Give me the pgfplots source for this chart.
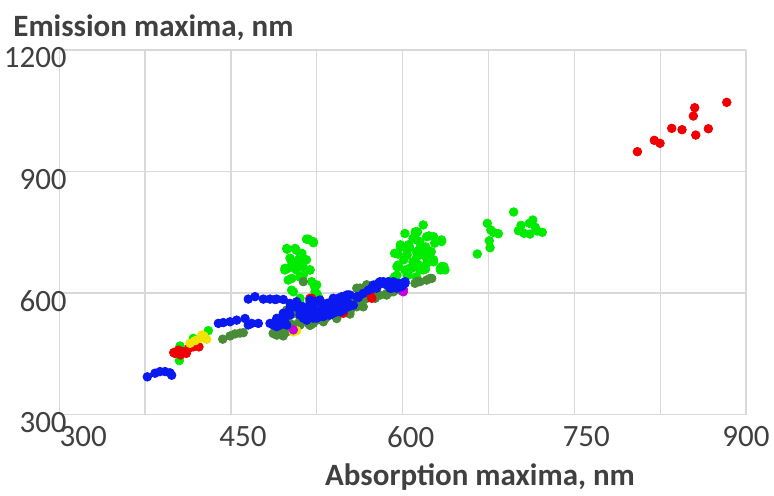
\documentclass[border=0pt]{standalone}
\usepackage{fontspec}
\setmainfont{Carlito}
\usepackage{pgfplots}
\pgfplotsset{compat=1.18}
\definecolor{gridc}{RGB}{217,217,217}
\definecolor{txt}{RGB}{64,64,64}
\definecolor{cblue}{RGB}{10,25,240}
\definecolor{cgreen}{RGB}{0,235,0}
\definecolor{cdkgreen}{RGB}{72,140,56}
\definecolor{cred}{RGB}{240,0,0}
\definecolor{cyellow}{RGB}{240,228,0}
\definecolor{cmag}{RGB}{200,0,220}
\begin{document}
\begin{tikzpicture}
\useasboundingbox (-29.65pt,-40.25pt) rectangle (357.35pt,207.25pt);
\begin{axis}[
  at={(0,0)}, anchor=south west,
  scale only axis, width=343.35pt, height=182.25pt,
  xmin=300, xmax=900, ymin=300, ymax=1200,
  xtick={300,375,...,900},
  xticklabels={\hspace{24pt}300,,\hspace{12pt}450,,\hspace{8pt}600,,\hspace{12pt}750,,900},
  ytick={300,600,900,1200},
  yticklabels={300,600,900,1200},
  grid=major, major grid style={draw=gridc, line width=0.65pt},
  axis line style={draw=none},
  major tick length=0pt,
  ticklabel style={font=\fontsize{15.5}{18}\selectfont, text=txt},
  xticklabel style={anchor=center, yshift=-11.25pt},
  yticklabel style={anchor=east, inner sep=0pt, xshift=3.9pt, yshift=-4pt},
  /pgf/number format/assume math mode=true,
  every axis x label/.style={at={(axis description cs:0.6127,0)}, anchor=center, yshift=-31.25pt, font=\fontsize{15.5}{18}\selectfont\bfseries, text=txt},
  every axis y label/.style={at={(axis description cs:0,1)}, anchor=west, inner sep=0pt, xshift=-23.15pt, yshift=11pt, font=\fontsize{15.5}{18}\selectfont\bfseries, text=txt},
  xlabel={Absorption maxima, nm},
  ylabel={Emission maxima, nm},
  clip=false,
  every axis plot/.append style={only marks, mark=*, mark size=2.15pt},
]
% bright green
\addplot[cgreen, mark options={draw=cgreen, fill=cgreen}] coordinates {
(665.2,696.3)(674,772)(675.7,729.1)(676.4,711.8)(677,755.5)(679.2,749.9)(683.6,746.4)(697,800)(701.1,753.8)(703.4,767.1)(706,747.4)(710.7,772)(711.3,745.6)(713.7,780.2)(715.9,762.2)(717.7,753)(722,749.9)
(602,747)(618,768)(613,751)(609,735)(623,741)(634,729)(628,723)(598,719)(596,696)(604,706)(606,714)(615,727)(620,714)(625,702)(627,682)(618,694)(612,702)(601,682)(596,665)(602,657)(608,661)(615,657)(620,659)(633,661)(637,657)(593,640)(609,677)(621,673)(605,644)(614,669)(593,698)(595,665)(633,657)(636,665)(627,739)(634,727)(625,682)
(611,751)(612,731)(621,739)(634,731)(598,714)(605,719)(615,710)(624,702)(604,694)(612,686)(621,686)(627,677)(596,669)(606,661)(618,657)(634,665)(595,644)(604,644)(612,640)(592,636)
(499,708)(507,706)(516,733)(522,724)(512,698)(503,677)(509,682)(513,665)(500,661)(507,657)(519,657)(500,632)(510,640)(503,607)(523,616)(525,599)(510,583)(506,673)(516,682)(497,657)
(498.7,710)(506,710)(517.6,733)(521.9,727)(510.3,698)(501.6,686)(513.2,677)(497.2,661)(507.4,661)(519.1,657)(503.1,636)(513.2,644)(520.5,628)(524.9,620)(504.5,603)(523.4,603)(510.3,587)(526.3,591)
(405.5,469)(404.9,433)(417.1,488)(430.2,507)
};
% dark green
\addplot[cdkgreen, mark options={draw=cdkgreen, fill=cdkgreen}] coordinates {
(490,504)(495.7,500)(501.6,509)(506,521)(511.8,529)(517.6,525)(524.9,533)(532.2,537)(539.4,546)(545.3,550)(554,554)(559.9,566)(564.2,583)(568.6,591)(571.5,603)(562.8,612)(568.6,620)(580.2,595)(586.1,599)(591.8,603)(597.7,607)(501.6,558)(506,550)(498.7,550)(487,500)(612.3,628)(513.2,628)(521.9,537)(492.9,504)
(490,496)(498.7,504)(510.3,521)(521.9,525)(533.7,541)(545.3,550)(556.9,566)(562.8,583)(568.6,591)(568.6,620)(559.9,612)(565.6,607)(574.4,599)(615.2,628)(623.9,636)(498.7,558)(504.5,550)(610.8,624)(621,632)(625.4,636)
(492.9,517)(501.6,525)(510.3,533)(519.1,541.5)(527.8,550)(536.5,558)(549.6,570)(558.4,583)(576,599)(589,602)(495.7,494)
(487,500.5)(495.7,508.6)(507.4,521)(519.1,529.1)(530.7,537.5)(542.4,545.7)(554,558)(562.8,574.5)(568.6,586.9)(571.5,595)(498.7,553.8)(501.6,545.7)(533.7,574.5)(554,582.7)(565.6,586.9)(562.8,603.2)
(507.4,512)(519.1,520)(530.7,529)(542.4,537)(554,548)(565.6,566)(576,587)(586,595)
(442.8,486)(449.2,494)(453.5,499)(457.9,501)(460.8,502)
};
% red
\addplot[cred, mark options={draw=cred, fill=cred}] coordinates {
(400,453)(404,459)(408,455)(413,463)(417,467)(422,467)(406,447)(411,451)(401,451)
(520.5,587)(571.5,599)(573,587)(548.2,550)(519,587)
(805.1,948.9)(819.9,977)(824.9,969.6)(835.1,1006.6)(844.1,1003.2)(854,1037)(855.2,1057.5)(856.1,990)(867.1,1005.6)(883.2,1070.8)
};
% yellow
\addplot[cyellow, mark options={draw=cyellow, fill=cyellow}] coordinates {
(414.2,475.8)(418.6,482.2)(422.9,488.1)(426.4,493.8)(428.8,485.7)(424.4,496.3)
(593.3,624)(507.4,507)(504.5,504)
};
% magenta
\addplot[cmag, mark options={draw=cmag, fill=cmag}] coordinates {
(600.6,603)(600.6,609)(504.5,509)
};
% blue
\addplot[cblue, mark options={draw=cblue, fill=cblue}] coordinates {
(376.9,393)(383.6,402)(388,406)(392.4,406)(396.7,403)(398.2,397)
(443.3,527)(449.2,529)(455,533)(462.3,537)(468.1,525)(473.9,525)(465.1,521)(439,525)
(465.1,585)(471,591)(478.3,585)(484.1,585)(490,585)(495.7,584)(488.5,584)
(504.5,566)(508.8,570)(513.2,566)(517.6,562)(521.9,562)(526.3,579)(530.7,570)(535,575)(539.4,583)(543.8,587)(546.8,591)(551.1,595)(554,595)(542.4,575)(546.8,570)(551.1,575)(516.2,546)(520.5,542)(524.9,538)(530.7,542)(535,546)(539.4,550)(543.8,554)(548.2,558)(552.5,566)(556.9,570)(561.3,589)(574.4,612)(577.3,620)(581.7,624)(586.1,620)(590.5,612)(594.8,612)(599.2,616)(602.1,624)(487,525)(491.4,529)(495.7,533)(490,517)(510.3,554)(513.2,538)(498.7,521)
(578.7,624)(583.1,628)(577.3,612)(589,612)(594.8,614)(600.6,625)(559.9,591)(539.4,587)(545.3,583)(551.1,591)(552.5,574)(545.3,562)(536.5,550)(527.8,542)(521.9,538)(516.2,533)(510.3,558)(501.6,546)(497.2,538)(492.9,529)(487,521)(494.3,537)
(501.6,574.5)(507.4,578.5)(519.1,582.7)(523.4,578.5)(527.8,558)(533.7,562)(539.4,566)(495.7,550)(490,537.5)(484.1,525)(565.6,599)(570,607)(573,611.6)(596.2,624)(591.8,628)(587.5,628)
(510.3,545.7)(524.9,550)(536.5,545.7)(545.3,553.8)(519.1,578.5)(527.8,582.7)(539.4,582.7)(552.5,595)(561.3,590.8)(574.4,619.7)(580.2,627.9)(589,615.5)(597.7,615.5)(602.1,627.9)(501.6,562.2)(492.9,521)
};
\end{axis}
\end{tikzpicture}
\end{document}
